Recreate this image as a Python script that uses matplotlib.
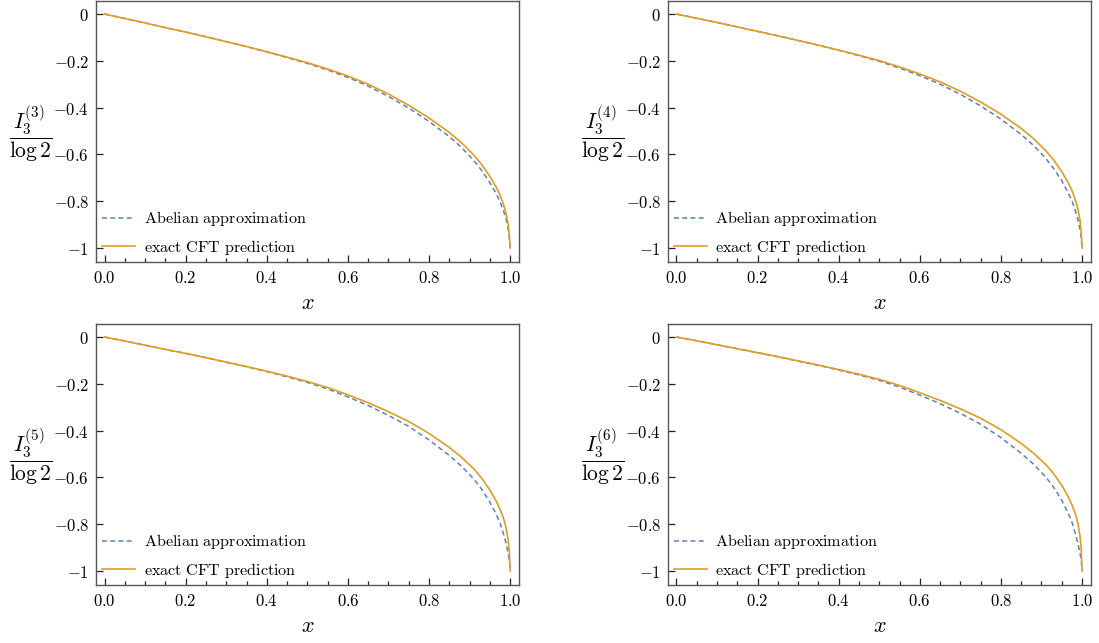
import numpy as np
import matplotlib
matplotlib.use('Agg')
import matplotlib.pyplot as plt
from matplotlib.ticker import FixedLocator, FuncFormatter

plt.rcParams['mathtext.fontset'] = 'cm'

# values
x_pts = [0, 0.05, 0.1, 0.15, 0.2, 0.25, 0.3, 0.35, 0.4, 0.45, 0.5, 0.55, 0.6, 0.65, 0.7,
         0.75, 0.8, 0.85, 0.88, 0.91, 0.93, 0.95, 0.965, 0.975, 0.985, 0.99, 0.995, 0.998, 1.0]

exact_3 = [0, -0.019, -0.038, -0.058, -0.077, -0.097, -0.118, -0.139, -0.161, -0.184, -0.208, -0.235, -0.265, -0.300, -0.342,
           -0.390, -0.444, -0.506, -0.550, -0.602, -0.644, -0.694, -0.738, -0.773, -0.821, -0.853, -0.898, -0.943, -1.0]
abel_3 = [0, -0.019, -0.038, -0.058, -0.077, -0.097, -0.118, -0.139, -0.162, -0.186, -0.211, -0.239, -0.271, -0.308, -0.352,
          -0.402, -0.459, -0.524, -0.570, -0.625, -0.669, -0.721, -0.766, -0.801, -0.848, -0.877, -0.918, -0.956, -1.0]

exact_4 = [0, -0.018, -0.036, -0.055, -0.074, -0.093, -0.113, -0.133, -0.154, -0.176, -0.199, -0.226, -0.256, -0.290, -0.330,
           -0.376, -0.428, -0.489, -0.532, -0.583, -0.624, -0.674, -0.719, -0.754, -0.802, -0.835, -0.883, -0.931, -1.0]
abel_4 = [0, -0.018, -0.036, -0.055, -0.074, -0.093, -0.113, -0.133, -0.155, -0.178, -0.202, -0.231, -0.263, -0.300, -0.343,
          -0.393, -0.449, -0.515, -0.561, -0.616, -0.660, -0.713, -0.761, -0.797, -0.849, -0.880, -0.920, -0.956, -1.0]

exact_5 = [0, -0.017, -0.035, -0.053, -0.070, -0.088, -0.107, -0.126, -0.146, -0.167, -0.190, -0.216, -0.247, -0.281, -0.319,
           -0.361, -0.412, -0.472, -0.514, -0.563, -0.604, -0.654, -0.699, -0.736, -0.782, -0.816, -0.868, -0.919, -1.0]
abel_5 = [0, -0.017, -0.035, -0.053, -0.070, -0.088, -0.108, -0.127, -0.148, -0.170, -0.194, -0.222, -0.256, -0.293, -0.335,
          -0.382, -0.440, -0.506, -0.552, -0.606, -0.651, -0.706, -0.755, -0.795, -0.849, -0.882, -0.923, -0.955, -1.0]

exact_6 = [0, -0.016, -0.033, -0.050, -0.067, -0.084, -0.102, -0.120, -0.139, -0.159, -0.181, -0.207, -0.238, -0.271, -0.307,
           -0.347, -0.396, -0.455, -0.496, -0.544, -0.584, -0.634, -0.680, -0.717, -0.763, -0.798, -0.853, -0.907, -1.0]
abel_6 = [0, -0.016, -0.033, -0.050, -0.067, -0.084, -0.103, -0.121, -0.141, -0.162, -0.185, -0.214, -0.248, -0.285, -0.326,
          -0.373, -0.430, -0.497, -0.543, -0.597, -0.642, -0.698, -0.750, -0.791, -0.850, -0.885, -0.925, -0.955, -1.0]

renyi = [3, 4, 5, 6]
exact = [exact_3, exact_4, exact_5, exact_6]
abel = [abel_3, abel_4, abel_5, abel_6]

x_major = [0.0, 0.2, 0.4, 0.6, 0.8, 1.0]
y_major = [0, -0.2, -0.4, -0.6, -0.8, -1]

blue = '#5E81B5'
orange = '#E19C24'
frame = '#555555'

def xfmt(v, pos):
    return r'$%.1f$' % v

def yfmt(v, pos):
    if abs(v) < 1e-9:
        return r'$0$'
    if abs(v + 1) < 1e-9:
        return r'$-1$'
    return r'$%.1f$' % v

fig = plt.figure(figsize=(10.99, 6.43), dpi=100)

# axes boxes in figure fraction (left, bottom, width, height)
boxes = [[0.0874, 0.5925, 0.3849, 0.4060],
         [0.6078, 0.5925, 0.3849, 0.4060],
         [0.0874, 0.0902, 0.3849, 0.4060],
         [0.6078, 0.0902, 0.3849, 0.4060]]

for k in range(len(renyi)):
    ax = fig.add_axes(boxes[k])
    ax.plot(x_pts, abel[k], '--', color=blue, lw=1.1, dashes=(3.2, 2.2), label=r'$\mathrm{Abelian\ approximation}$')
    ax.plot(x_pts, exact[k], '-', color=orange, lw=1.2, label=r'$\mathrm{exact\ CFT\ prediction}$')
    ax.set_xlim(-0.021, 1.022)
    ax.set_ylim(-1.06, 0.056)

    ax.xaxis.set_major_locator(FixedLocator(x_major))
    ax.xaxis.set_minor_locator(FixedLocator(np.arange(0, 1.0001, 0.05)))
    ax.yaxis.set_major_locator(FixedLocator(y_major))
    ax.xaxis.set_major_formatter(FuncFormatter(xfmt))
    ax.yaxis.set_major_formatter(FuncFormatter(yfmt))
    ax.tick_params(which='both', direction='in', top=False, right=False, color='#222222', labelsize=12, width=0.9)
    ax.tick_params(which='major', length=5, pad=5)
    ax.tick_params(which='minor', length=3)
    for s in ax.spines.values():
        s.set_color(frame)
        s.set_linewidth(1.0)

    ax.set_xlabel(r'$x$', fontsize=16, labelpad=4)
    ax.set_ylabel(r'$\dfrac{I_3^{(%d)}}{\log 2}$' % renyi[k], fontsize=15.5, rotation=0, va='center', ha='center')
    ax.yaxis.set_label_coords(-0.155, 0.49)

    ax.legend(loc='lower left', bbox_to_anchor=(0.0, -0.005), borderaxespad=0, frameon=False,
              fontsize=11.6, handlelength=2.0, handletextpad=0.55, labelspacing=0.6)

plt.savefig('out.png', dpi=100)
